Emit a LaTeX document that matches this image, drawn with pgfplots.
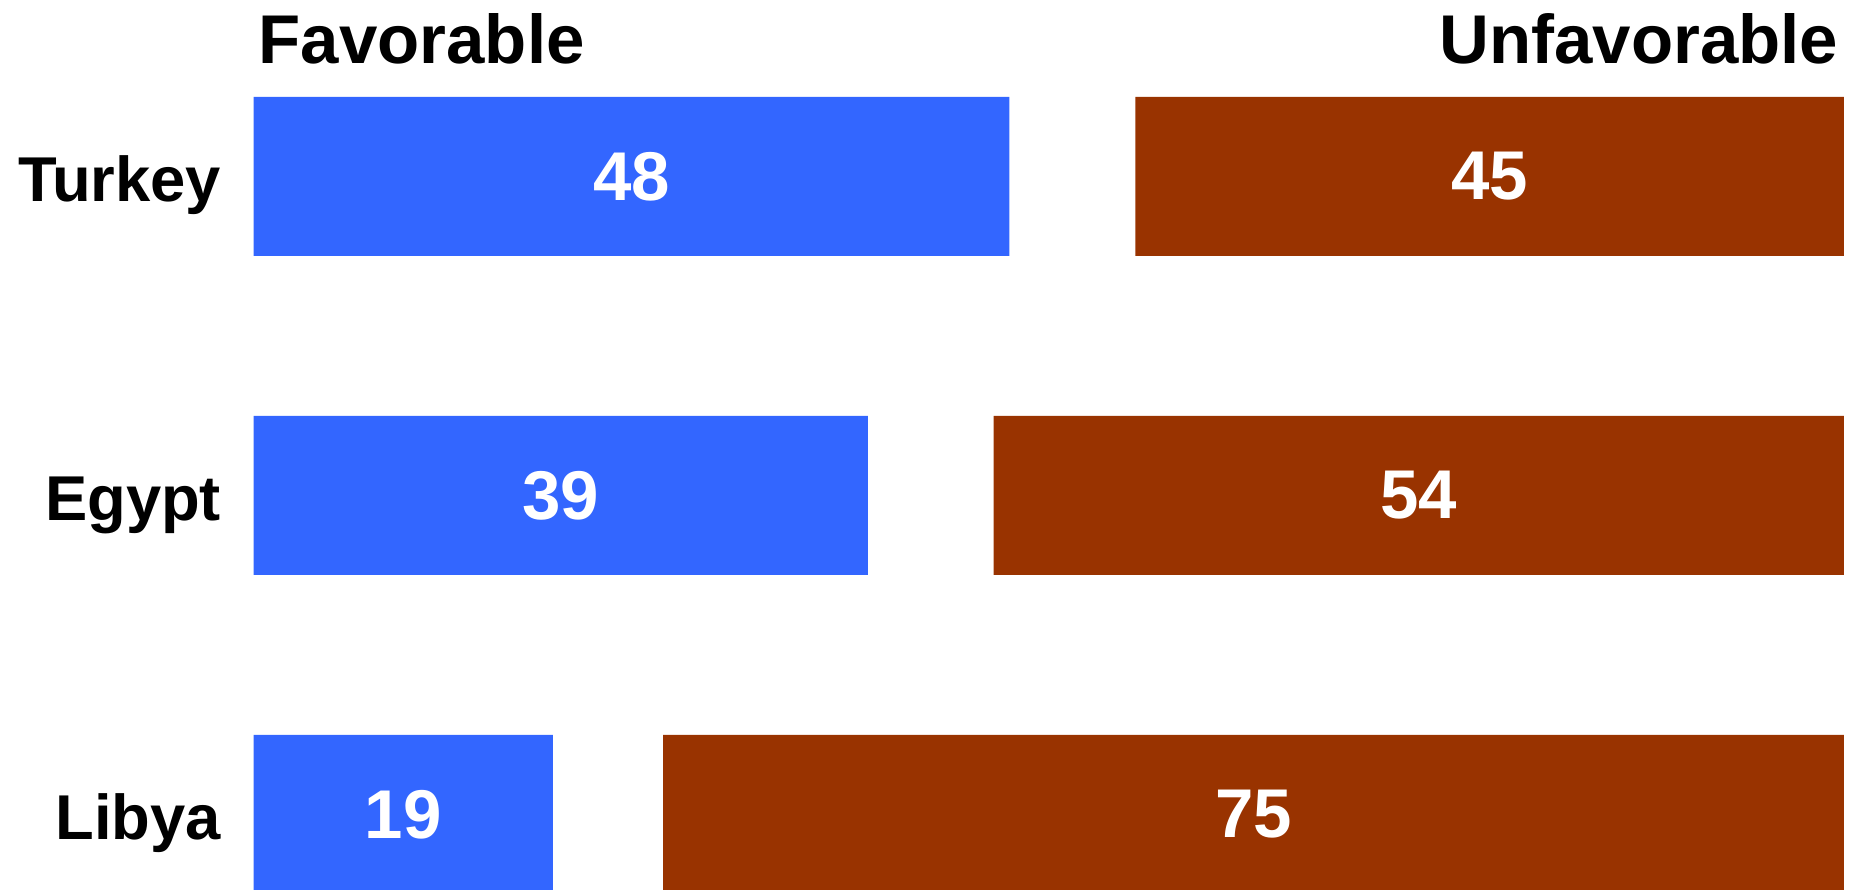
\documentclass[border=0pt]{standalone}
\usepackage{fontspec}
\setmainfont{Liberation Sans}
\usepackage{pgfplots}
\pgfplotsset{compat=1.18}
\definecolor{favblue}{HTML}{3366FF}
\definecolor{unfbrown}{HTML}{993300}
\begin{document}
\begin{tikzpicture}
\path[use as bounding box] (0,0) rectangle (557.4pt,-267pt);
\pgfplotsset{common/.style={
  scale only axis, width=477.1pt, height=287.1pt,
  at={(76.1pt,-5.1pt)}, anchor=north west,
  xmin=0, xmax=101, ymin=-0.5, ymax=2.5,
  xbar, bar width=47.7pt,
  axis line style={draw=none}, major tick length=0pt,
  xtick=\empty,
  /pgf/number format/assume math mode=true,
  point meta=x, nodes near coords,
  visualization depends on={rawx \as \rawx},
  clip=false,
}}
\begin{axis}[common,
  ytick={0,1,2}, yticklabels={Libya,Egypt,Turkey},
  yticklabel style={anchor=base east, inner sep=0pt, xshift=-9.6pt, yshift=-7.56pt,
    font=\bfseries\fontsize{19}{22}\selectfont},
  every node near coord/.append style={anchor=center, text=white, inner sep=0pt,
    font=\bfseries\fontsize{20.7}{24}\selectfont, xshift={-2.3619pt*\rawx}},
]
\addplot[fill=favblue, draw=none, bar shift=0pt] coordinates {(48,2) (39,1) (19,0)};
\end{axis}
\begin{axis}[common, x dir=reverse, ytick=\empty,
  every node near coord/.append style={anchor=center, text=white, inner sep=0pt,
    font=\bfseries\fontsize{20.7}{24}\selectfont, xshift={2.3619pt*\rawx}},
]
\addplot[fill=unfbrown, draw=none, bar shift=0pt] coordinates {(45,2) (54,1) (75,0)};
\end{axis}
\node[anchor=base west, inner sep=0pt, font=\bfseries\fontsize{20.7}{24}\selectfont] at (77.4pt,-19pt) {Favorable};
\node[anchor=base east, inner sep=0pt, font=\bfseries\fontsize{20.7}{24}\selectfont] at (551.7pt,-19pt) {Unfavorable};
\end{tikzpicture}
\end{document}
